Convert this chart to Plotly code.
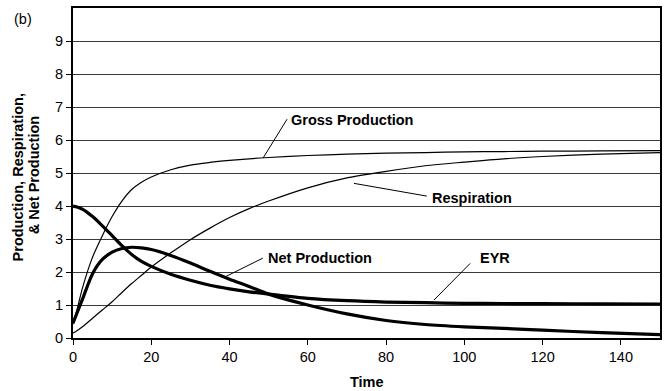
import numpy as np
import plotly.graph_objects as go

# Time axis samples
time = [0, 1, 2.5, 5, 7.5, 10, 12.5, 15, 17.5, 20, 25, 30, 35, 40, 45, 50,
        60, 70, 80, 90, 100, 110, 120, 135, 150]

gross_production = [0.42, 0.85, 1.55, 2.45, 3.1, 3.68, 4.15, 4.5, 4.72, 4.88,
                    5.1, 5.24, 5.32, 5.38, 5.43, 5.47, 5.53, 5.57, 5.6, 5.62,
                    5.64, 5.65, 5.66, 5.67, 5.68]

respiration = [0.15, 0.22, 0.35, 0.6, 0.85, 1.1, 1.38, 1.65, 1.9, 2.15,
               2.58, 2.98, 3.33, 3.65, 3.92, 4.15, 4.55, 4.85, 5.05, 5.22,
               5.33, 5.43, 5.5, 5.57, 5.62]

net_production = [0.45, 0.75, 1.2, 1.95, 2.38, 2.6, 2.71, 2.75, 2.73, 2.68,
                  2.5, 2.27, 2.02, 1.78, 1.56, 1.33, 1.0, 0.73, 0.53, 0.41,
                  0.34, 0.29, 0.24, 0.16, 0.1]

eyr = [4.0, 3.97, 3.9, 3.68, 3.4, 3.1, 2.8, 2.53, 2.32, 2.17,
       1.93, 1.75, 1.6, 1.49, 1.4, 1.33, 1.2, 1.13, 1.09, 1.07,
       1.05, 1.045, 1.04, 1.035, 1.03]

x_ticks = [0, 20, 40, 60, 80, 100, 120, 140]
y_ticks = [0, 1, 2, 3, 4, 5, 6, 7, 8, 9]

FONT = "Arial, Liberation Sans, sans-serif"

fig = go.Figure()

series = [
    ("Gross Production", gross_production, 1.2),
    ("Respiration", respiration, 1.2),
    ("Net Production", net_production, 3.2),
    ("EYR", eyr, 3.2),
]
for name, vals, w in series:
    fig.add_trace(go.Scatter(
        x=time, y=vals, mode="lines", name=name,
        line=dict(color="black", width=w, shape="spline", smoothing=0.8),
        showlegend=False, hoverinfo="skip",
    ))

# Curve labels with leader lines: (text, series, t on curve, offset from curve,
# leader end (t, v), label anchor (t, v))
labels = [
    ("Gross Production", gross_production, 48.6, 0.0, (54.7, 6.63), (55.3, 6.6)),
    ("Respiration", respiration, 71.8, -0.2, (90.4, 4.3), (91.3, 4.23)),
    ("Net Production", net_production, 38.7, 0.0, (48.5, 2.42), (49.3, 2.42)),
    ("EYR", eyr, 92.2, 0.08, (101.5, 2.26), (103.6, 2.42)),
]
for text, vals, t0, off, (t1, v1), (tx, ty) in labels:
    v0 = float(np.interp(t0, time, vals)) + off
    fig.add_shape(type="line", xref="x", yref="y", x0=t0, y0=v0, x1=t1, y1=v1,
                  line=dict(color="black", width=1))
    fig.add_annotation(x=tx, y=ty, xref="x", yref="y", text=f"<b>{text}</b>",
                       showarrow=False, xanchor="left", yanchor="middle",
                       font=dict(family=FONT, size=14.5, color="black"))

# Panel tag
fig.add_annotation(x=-0.085, y=1.0, xref="paper", yref="paper", text="(b)",
                   showarrow=False, xanchor="center", yanchor="middle",
                   yshift=-11, font=dict(family=FONT, size=14.5, color="black"))

# Axis titles
fig.add_annotation(x=-0.093, y=0.5, xref="paper", yref="paper",
                   text="<b>Production, Respiration,</b>", textangle=-90,
                   showarrow=False, xanchor="center", yanchor="middle", yshift=-4,
                   font=dict(family=FONT, size=14.5, color="black"))
fig.add_annotation(x=-0.066, y=0.5, xref="paper", yref="paper",
                   text="<b>& Net Production</b>", textangle=-90,
                   showarrow=False, xanchor="center", yanchor="middle", yshift=-2,
                   font=dict(family=FONT, size=14.5, color="black"))
fig.add_annotation(x=0.5, y=-0.133, xref="paper", yref="paper",
                   text="<b>Time</b>", showarrow=False,
                   xanchor="center", yanchor="middle",
                   font=dict(family=FONT, size=14.5, color="black"))

fig.update_layout(
    width=665, height=391, autosize=False,
    margin=dict(l=73, r=3, t=8, b=53),
    paper_bgcolor="white", plot_bgcolor="white",
    font=dict(family=FONT, size=14.5, color="black"),
    xaxis=dict(
        range=[0, 150], tickvals=x_ticks, showgrid=False, zeroline=False,
        showline=True, linecolor="black", linewidth=2, mirror=True,
        ticks="outside", ticklen=5, tickwidth=1, tickcolor="black",
        tickfont=dict(family=FONT, size=14.5, color="black"),
    ),
    yaxis=dict(
        range=[0, 10], tickvals=y_ticks, showgrid=True, gridcolor="#3a3a3a",
        gridwidth=1, zeroline=False,
        showline=True, linecolor="black", linewidth=2, mirror=True,
        ticks="outside", ticklen=5, tickwidth=1, tickcolor="black",
        tickfont=dict(family=FONT, size=14.5, color="black"),
    ),
)

fig.write_html("out.html")
